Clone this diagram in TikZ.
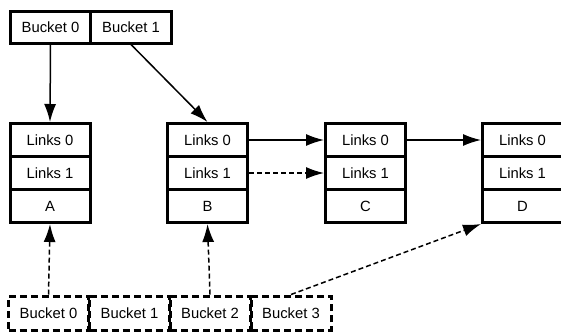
\documentclass[tikz,border=0pt]{standalone}
\usepackage{fontspec}
\setmainfont{Liberation Sans}
\usetikzlibrary{arrows.meta}

\begin{document}
\begin{tikzpicture}[
            x=1pt, y=-1pt,
            font=\fontsize{14.8}{17}\selectfont,
            cell/.style={draw, rectangle, line width=3pt, minimum width=80pt,
                       minimum height=33pt, inner sep=0pt},
            bucket/.style={cell, minimum height=32pt},
            freebucket/.style={cell, minimum height=34pt, dash pattern=on 7pt off 4pt},
            arrow/.style={-{Latex[length=18pt,width=12pt]}, line width=1.5pt},
            weak/.style={arrow, dash pattern=on 5pt off 3pt}
        ]
            \useasboundingbox (0,0) rectangle (561,333);

            % Top buckets
            \node[bucket] (top0) at (50.5,27) {Bucket 0};
            \node[bucket, minimum width=81pt] (top1) at (131,27) {Bucket 1};

            % Entries
            \node[cell] (A0) at (50,140) {Links 0};
            \node[cell] (A1) at (50,173) {Links 1};
            \node[cell] (A) at (50,206) {A};
            \node[cell] (B0) at (207.5,140) {Links 0};
            \node[cell] (B1) at (207.5,173) {Links 1};
            \node[cell] (B) at (207.5,206) {B};
            \node[cell] (C0) at (365.5,140) {Links 0};
            \node[cell] (C1) at (365.5,173) {Links 1};
            \node[cell] (C) at (365.5,206) {C};
            \node[cell] (D0) at (522.5,140) {Links 0};
            \node[cell] (D1) at (522.5,173) {Links 1};
            \node[cell] (D) at (522.5,206) {D};

            % Bottom buckets
            \node[freebucket] (bot0) at (48.5,313) {Bucket 0};
            \node[freebucket] (bot1) at (129.5,313) {Bucket 1};
            \node[freebucket] (bot2) at (210,313) {Bucket 2};
            \node[freebucket] (bot3) at (291,313) {Bucket 3};

            \draw[arrow] (top0.south) -- (A0.north);
            \draw[arrow] (top1.south) -- (B0.north);
            \draw[arrow] (B0.east) -- (C0.west);
            \draw[weak] (B1.east) -- (C1.west);
            \draw[arrow] (C0.east) -- (D0.west);

            \draw[weak] (bot0.north) -- (A.south);
            \draw[weak] (bot2.north) -- (B.south);
            \draw[weak] (bot3.north) -- (D.south west);
        \end{tikzpicture}
\end{document}
